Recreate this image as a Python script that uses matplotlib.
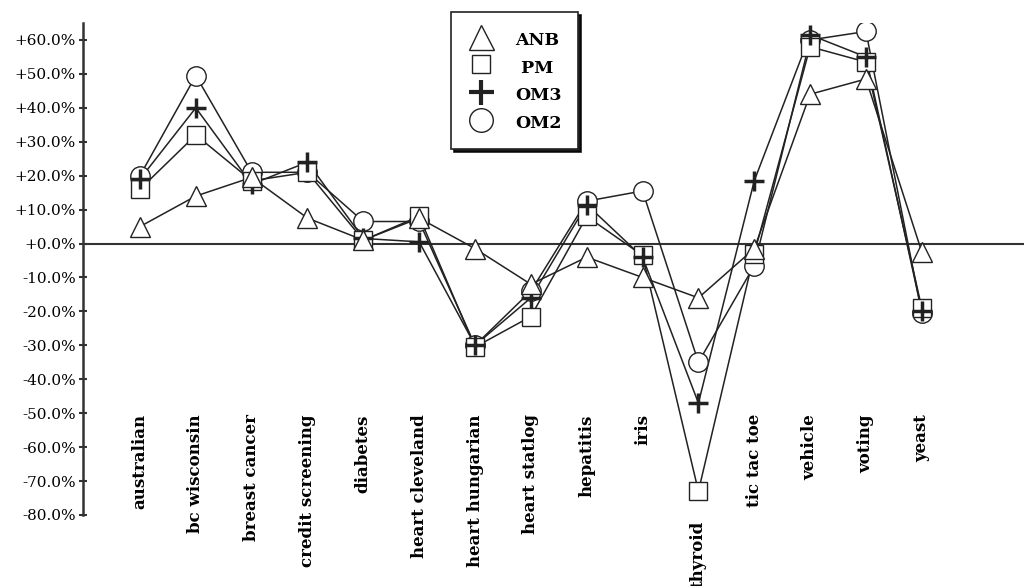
import matplotlib
matplotlib.use("Agg")
import matplotlib.pyplot as plt
from matplotlib.ticker import FuncFormatter
from matplotlib.lines import Line2D
import numpy as np

categories = ["australian", "bc wisconsin", "breast cancer", "credit screening",
              "diabetes", "heart cleveland", "heart hungarian", "heart statlog",
              "hepatitis", "iris", "thyroid", "tic tac toe", "vehicle", "voting", "yeast"]

anb = [5, 14, 19.5, 7.5, 1, 7.5, -1.5, -12, -4, -10, -16, -1.5, 44, 48.5, -2.5]
pm  = [16, 32, 18.5, 21, 1, 8, -30.5, -21.5, 8, -3.5, -73, -3, 58, 53.5, -19]
om3 = [19, 40, 17.5, 24, 1.5, 0.5, -30, -16, 11.5, -4, -47, 18.5, 61.5, 55, -20]
om2 = [20, 49.5, 21, 21, 6.5, 6.5, -30, -14, 12.5, 15.5, -35, -6.5, 60, 62.5, -20.5]

yticks = list(range(-80, 70, 10))

plt.rcParams['font.family'] = ['DejaVu Serif']

fig = plt.figure(figsize=(10.26, 5.86), dpi=100)
ax = fig.add_axes([83/1026, 1 - 515/586, (1024-83)/1026, (515-23)/586])

x = np.arange(len(categories))
ax.axhline(0, color='#333333', lw=1.5, zorder=1)

series = [("OM2", om2, 'o', 14, 1.0), ("PM", pm, 's', 12.5, 1.0),
          ("OM3", om3, '+', 14, 2.5), ("ANB", anb, '^', 14, 1.0)]
for name, vals, m, ms, mew in series:
    ax.plot(x, vals, color='#222222', lw=1.1, zorder=2)
for i, (name, vals, m, ms, mew) in enumerate(series):
    ax.plot(x, vals, ls='none', marker=m, ms=ms, mfc='white', mec='#222222',
            mew=mew, zorder=3 + i)

ax.set_xlim(-1.02, 15.83)
ax.set_ylim(-80, 65)
ax.set_yticks(yticks)
ax.yaxis.set_major_formatter(FuncFormatter(lambda v, p: f"{v:+.1f}%"))
ax.tick_params(axis='y', direction='inout', length=6, width=1.5, labelsize=11, pad=2,
               color='#333333')
for s in ['top', 'right', 'bottom']:
    ax.spines[s].set_visible(False)
ax.spines['left'].set_linewidth(1.8)
ax.spines['left'].set_color('#333333')
ax.set_xticks([])

for i, c in enumerate(categories):
    ytop = -50.3 if c != "thyroid" else -81.6
    ax.text(i, ytop, c, rotation=90, ha='center', va='top', fontsize=12,
            fontweight='bold', clip_on=False)

leg_handles = [
    Line2D([], [], ls='none', marker='^', ms=18, mfc='white', mec='#222222', mew=1.0),
    Line2D([], [], ls='none', marker='s', ms=13.5, mfc='white', mec='#222222', mew=1.0),
    Line2D([], [], ls='none', marker='+', ms=18, mfc='white', mec='#222222', mew=3.0),
    Line2D([], [], ls='none', marker='o', ms=17, mfc='white', mec='#222222', mew=1.0),
]
leg = ax.legend(leg_handles, ["ANB", " PM", "OM3", "OM2"], loc='upper left',
                bbox_to_anchor=((451-83)/941, (515-12)/492), frameon=True,
                fancybox=False, shadow={'color': 'black', 'alpha': 0.9},
                prop={'weight': 'bold', 'size': 12.5}, labelspacing=0.38,
                handleheight=1.5, handletextpad=1.2, borderpad=0.95,
                handlelength=1.55, borderaxespad=0)
leg.get_frame().set_edgecolor('#222222')
leg.get_frame().set_linewidth(1.2)
leg.set_zorder(10)

fig.savefig("out.png", dpi=100)
